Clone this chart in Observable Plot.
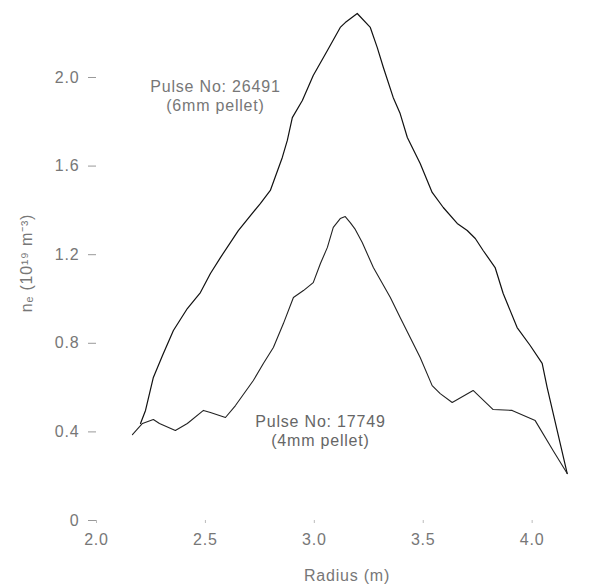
<!DOCTYPE html>
<html>
<head>
<meta charset="utf-8">
<script src="https://cdn.jsdelivr.net/npm/d3@7"></script>
<script src="https://cdn.jsdelivr.net/npm/@observablehq/plot@0.6"></script>
<style>
  html, body { margin: 0; padding: 0; background: #fff; }
  #chart svg { display: block; }
</style>
</head>
<body>
<div id="chart"></div>
<script>
// Pulse No: 26491 (6 mm pellet)
const radius26491 = [2.202, 2.225, 2.261, 2.303, 2.353, 2.417, 2.477, 2.523, 2.569, 2.651, 2.752, 2.798, 2.853, 2.876, 2.899, 2.945, 2.995, 3.060, 3.119, 3.142, 3.197, 3.257, 3.289, 3.317, 3.362, 3.394, 3.427, 3.486, 3.541, 3.592, 3.656, 3.702, 3.739, 3.775, 3.830, 3.867, 3.931, 3.991, 4.046, 4.069, 4.115, 4.161];
const density26491 = [0.438, 0.497, 0.646, 0.745, 0.858, 0.957, 1.029, 1.115, 1.187, 1.309, 1.431, 1.490, 1.639, 1.716, 1.819, 1.896, 2.009, 2.122, 2.226, 2.248, 2.289, 2.226, 2.135, 2.045, 1.910, 1.837, 1.729, 1.612, 1.481, 1.413, 1.341, 1.309, 1.273, 1.219, 1.142, 1.025, 0.871, 0.790, 0.709, 0.600, 0.406, 0.212];

// Pulse No: 17749 (4 mm pellet)
const radius17749 = [2.165, 2.211, 2.261, 2.289, 2.362, 2.417, 2.491, 2.523, 2.592, 2.638, 2.720, 2.766, 2.812, 2.858, 2.904, 2.950, 2.995, 3.028, 3.060, 3.087, 3.119, 3.142, 3.165, 3.188, 3.220, 3.271, 3.349, 3.394, 3.486, 3.541, 3.578, 3.633, 3.729, 3.821, 3.908, 4.014, 4.096, 4.161];
const density17749 = [0.388, 0.438, 0.456, 0.438, 0.406, 0.438, 0.497, 0.488, 0.465, 0.519, 0.632, 0.709, 0.781, 0.889, 1.007, 1.038, 1.074, 1.160, 1.233, 1.323, 1.363, 1.372, 1.345, 1.314, 1.255, 1.142, 1.007, 0.916, 0.736, 0.609, 0.573, 0.533, 0.587, 0.501, 0.497, 0.451, 0.316, 0.212];

const xTicks = [2.0, 2.5, 3.0, 3.5, 4.0];
const yTicks = [0, 0.4, 0.8, 1.2, 1.6, 2.0];
const label26491 = "Pulse No: 26491\n(6mm pellet)";
const label17749 = "Pulse No: 17749\n(4mm pellet)";

const toRows = (xs, ys) => xs.map((x, i) => ({x, y: ys[i]}));

const chart = Plot.plot({
  width: 604,
  height: 587,
  marginLeft: 96,
  marginRight: 7,
  marginTop: 5,
  marginBottom: 67,
  style: {fontFamily: "Liberation Sans, Arial, sans-serif", fontSize: "16px", color: "#777", background: "#fff"},
  x: {domain: [2.0, 4.3], ticks: xTicks, tickFormat: d => d.toFixed(1)},
  y: {domain: [0, 2.325], ticks: yTicks, tickFormat: d => d === 0 ? "0" : d.toFixed(1)},
  marks: [
    Plot.axisX({ticks: xTicks, tickFormat: d => d.toFixed(1), tickSize: 3, tickPadding: 10,
      stroke: "#bbb", fill: "#777", fontSize: 16,
      label: "Radius (m)", labelAnchor: "center", labelArrow: "none", labelOffset: 60}),
    Plot.axisY({ticks: yTicks, tickFormat: d => d === 0 ? "0" : d.toFixed(1), tickSize: 8, tickPadding: 9,
      stroke: "#999", fill: "#777", fontSize: 16,
      label: "nₑ (10¹⁹ m⁻³)", labelAnchor: "center", labelArrow: "none", labelOffset: 76}),
    Plot.line(toRows(radius26491, density26491), {x: "x", y: "y", stroke: "#111", strokeWidth: 1.2}),
    Plot.line(toRows(radius17749, density17749), {x: "x", y: "y", stroke: "#222", strokeWidth: 1.1}),
    Plot.text([label26491], {x: 2.546, y: 1.92, text: d => d, fill: "#777", fontSize: 16, lineHeight: 1.2}),
    Plot.text([label17749], {x: 3.028, y: 0.406, text: d => d, fill: "#666", fontSize: 16, lineHeight: 1.2})
  ]
});
chart.querySelectorAll("text").forEach(t => t.setAttribute("letter-spacing", "0.8"));
document.getElementById("chart").appendChild(chart);
</script>
</body>
</html>
